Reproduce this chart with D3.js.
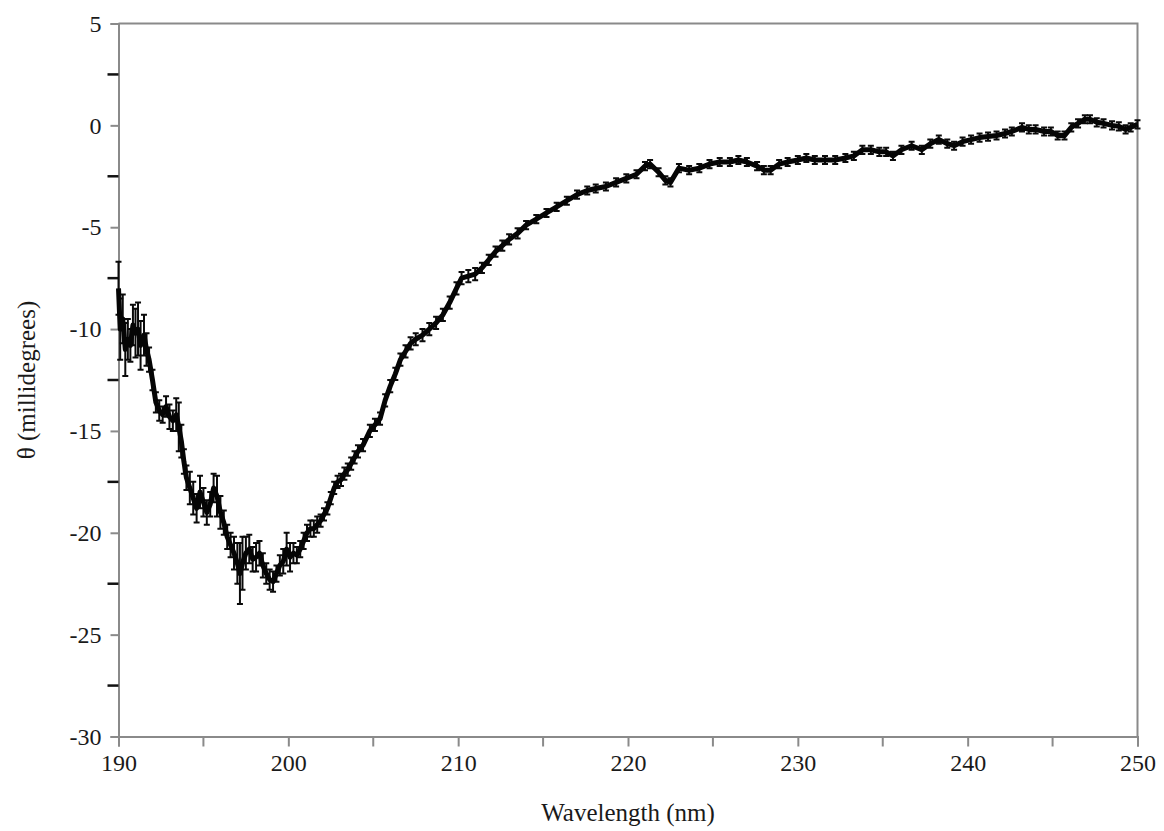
<!DOCTYPE html>
<html lang="en">
  <head>
    <meta charset="utf-8" />
    <title>CD spectrum</title>
    <script src="https://d3js.org/d3.v7.min.js"></script>
    <style type="text/css">
      body { margin: 0; background: #fff; }
      svg text {
        font-family: "Liberation Serif", Tinos, "Times New Roman", Times, "DejaVu Serif", "Noto Serif", serif !important;
        fill: #1a1a1a;
      }
    </style>
  </head>
  <body>
    <script type="text/javascript">
      // wavelength (nm), ellipticity (mdeg) and error bar half-heights
      const wavelength = [
        190.0, 190.1, 190.25, 190.4, 190.55, 190.7, 190.85, 191.0, 191.15, 191.3,
        191.5, 191.65, 191.8, 192.0, 192.2, 192.4, 192.6, 192.8, 193.0, 193.2,
        193.4, 193.55, 193.7, 193.85, 194.0, 194.2, 194.4, 194.6, 194.8, 195.0,
        195.2, 195.4, 195.6, 195.8, 196.0, 196.2, 196.4, 196.6, 196.8, 197.0,
        197.15, 197.3, 197.5, 197.7, 197.9, 198.1, 198.3, 198.5, 198.7, 198.9,
        199.1, 199.3, 199.5, 199.7, 199.9, 200.1, 200.3, 200.5, 200.7, 200.9,
        201.1, 201.3, 201.5, 201.7, 201.9, 202.1, 202.3, 202.5, 202.7, 202.9,
        203.1, 203.3, 203.5, 203.7, 203.9, 204.1, 204.4, 204.8, 205.1, 205.4,
        205.7, 206.0, 206.3, 206.6, 206.9, 207.2, 207.5, 207.9, 208.3, 208.7,
        209.1, 209.5, 209.9, 210.2, 210.6, 211.0, 211.4, 211.8, 212.2, 212.6,
        213.0, 213.5, 214.0, 214.6, 215.2, 215.8, 216.4, 217.0, 217.6, 218.1,
        218.7, 219.3, 219.9, 220.5, 221.0, 221.3, 221.8, 222.2, 222.5, 223.0,
        223.6, 224.2, 224.8, 225.4, 226.0, 226.5, 227.0, 227.6, 228.0, 228.4,
        228.9, 229.4, 230.0, 230.5, 231.0, 231.6, 232.2, 232.8, 233.3, 233.8,
        234.3, 234.8, 235.2, 235.6, 236.1, 236.7, 237.3, 237.8, 238.3, 238.8,
        239.2, 239.7, 240.2, 240.7, 241.2, 241.7, 242.2, 242.6, 243.2, 243.6,
        244.0, 244.5, 244.9, 245.3, 245.7, 246.1, 246.5, 246.9, 247.2, 247.6,
        248.0, 248.5, 248.9, 249.3, 249.6, 250.0
      ];
      const theta = [
        -8.0, -10.0, -9.5, -11.0, -10.5, -10.8, -9.8, -10.2, -10.0, -10.8,
        -10.3, -11.0, -11.5, -12.5, -13.6, -14.0, -14.2, -13.8, -14.3, -14.5,
        -14.2, -14.8, -15.5, -16.5, -17.3, -17.8, -18.3, -18.8, -18.0, -18.5,
        -19.0, -18.6, -17.8, -18.2, -19.0, -19.5, -20.2, -20.6, -21.0, -21.5,
        -22.0, -21.5, -21.0, -20.8, -21.3, -21.2, -21.0, -21.6, -22.0, -22.3,
        -22.4, -22.0, -21.6, -21.4, -20.8, -21.2, -21.0, -21.1, -20.8, -20.4,
        -20.0, -19.8, -19.8, -19.6, -19.4, -19.1, -18.8, -18.3, -17.8, -17.5,
        -17.4, -17.1, -16.9, -16.6, -16.3, -16.0, -15.7, -15.0, -14.7, -14.4,
        -13.5, -12.8, -12.2, -11.5, -11.1, -10.7, -10.5, -10.3, -10.0, -9.7,
        -9.3, -8.7, -8.0, -7.5, -7.4, -7.3, -7.0, -6.6, -6.2, -5.9,
        -5.6, -5.3, -4.9, -4.6, -4.3, -4.0, -3.7, -3.4, -3.2, -3.1,
        -3.0, -2.8, -2.6, -2.4, -2.0, -1.9, -2.3, -2.7, -2.8, -2.1,
        -2.2, -2.1, -1.9, -1.8, -1.8, -1.7, -1.8, -2.0, -2.2, -2.2,
        -1.9, -1.8, -1.7, -1.6, -1.7, -1.7, -1.7, -1.6, -1.5, -1.2,
        -1.2, -1.3, -1.3, -1.5, -1.2, -1.0, -1.2, -0.9, -0.7, -0.9,
        -1.0, -0.8, -0.7, -0.6, -0.55, -0.5, -0.4, -0.3, -0.1, -0.2,
        -0.2, -0.3, -0.3, -0.5, -0.5, -0.1, 0.1, 0.3, 0.3, 0.15,
        0.1, 0.0, -0.05, -0.2, -0.1, 0.05
      ];
      const thetaErr = [
        1.3, 1.5, 1.2, 1.3, 1.0, 0.8, 1.0, 1.2, 1.3, 1.2,
        1.0, 0.8, 0.6, 0.5, 0.5, 0.5, 0.4, 0.5, 0.6, 0.5,
        0.8, 1.2, 0.8, 0.6, 0.6, 0.8, 0.8, 0.7, 0.8, 0.7,
        0.6, 0.6, 0.7, 1.0, 0.8, 0.6, 0.6, 0.6, 0.8, 1.0,
        1.5, 1.3, 0.8, 0.7, 0.6, 0.7, 0.6, 0.6, 0.5, 0.5,
        0.5, 0.4, 0.5, 0.6, 0.8, 0.7, 0.5, 0.4, 0.4, 0.4,
        0.4, 0.4, 0.4, 0.4, 0.3, 0.3, 0.3, 0.3, 0.3, 0.3,
        0.3, 0.3, 0.3, 0.3, 0.3, 0.3, 0.3, 0.3, 0.3, 0.3,
        0.3, 0.3, 0.3, 0.3, 0.3, 0.3, 0.3, 0.3, 0.3, 0.3,
        0.3, 0.3, 0.3, 0.3, 0.3, 0.3, 0.25, 0.25, 0.25, 0.25,
        0.25, 0.25, 0.2, 0.2, 0.2, 0.2, 0.2, 0.2, 0.2, 0.2,
        0.2, 0.2, 0.2, 0.2, 0.2, 0.2, 0.2, 0.2, 0.2, 0.2,
        0.2, 0.2, 0.2, 0.2, 0.2, 0.2, 0.2, 0.2, 0.2, 0.2,
        0.2, 0.2, 0.2, 0.2, 0.2, 0.2, 0.2, 0.2, 0.2, 0.2,
        0.2, 0.2, 0.2, 0.2, 0.2, 0.2, 0.2, 0.2, 0.2, 0.2,
        0.2, 0.2, 0.2, 0.2, 0.2, 0.2, 0.2, 0.2, 0.2, 0.2,
        0.2, 0.2, 0.2, 0.2, 0.2, 0.2, 0.2, 0.2, 0.2, 0.2,
        0.2, 0.2, 0.2, 0.2, 0.2, 0.2
      ];
      const xTicks = [190, 200, 210, 220, 230, 240, 250];
      const xMinorTicks = [195, 205, 215, 225, 235, 245];
      const yTicks = [5, 0, -5, -10, -15, -20, -25, -30];
      const yMinorTicks = [2.5, -2.5, -7.5, -12.5, -17.5, -22.5, -27.5];

      const data = wavelength.map(function (wl, i) {
        return { w: wl, v: theta[i], e: thetaErr[i] };
      });

      //Width and height
      const w = 1164;
      const h = 831;
      const plotLeft = 118.5, plotRight = 1137.5, plotTop = 23.5, plotBottom = 736.5;
      const axisGray = "#8a8a8a";

      const xScale = d3.scaleLinear().domain([190, 250]).range([plotLeft, plotRight]);
      const yScale = d3.scaleLinear().domain([-30, 5]).range([plotBottom, plotTop]);

      const svg = d3
        .select("body")
        .append("svg")
        .attr("width", w)
        .attr("height", h);

      //Frame (top and right edges)
      svg.append("path")
        .attr("d", "M" + plotLeft + "," + plotTop + "H" + plotRight + "V" + plotBottom)
        .attr("fill", "none")
        .attr("stroke", axisGray)
        .attr("stroke-width", 2);

      //Y axis
      const yAxis = svg.append("g")
        .attr("transform", "translate(" + plotLeft + ",0)")
        .call(d3.axisLeft(yScale).tickValues(yTicks).tickSize(8).tickPadding(9)
          .tickFormat(function (d) { return d; }));
      yAxis.attr("font-family", null);
      yAxis.select(".domain").attr("stroke", axisGray).attr("stroke-width", 2);
      yAxis.selectAll(".tick line").attr("stroke", axisGray).attr("stroke-width", 2);
      yAxis.selectAll(".tick text").attr("font-size", 24);

      svg.append("g")
        .selectAll("line")
        .data(yMinorTicks)
        .enter()
        .append("line")
        .attr("x1", plotLeft - 11)
        .attr("x2", plotLeft)
        .attr("y1", function (d) { return yScale(d); })
        .attr("y2", function (d) { return yScale(d); })
        .attr("stroke", "#111")
        .attr("stroke-width", 2.5);

      //X axis
      const xAxis = svg.append("g")
        .attr("transform", "translate(0," + plotBottom + ")")
        .call(d3.axisBottom(xScale).tickValues(xTicks).tickSize(10).tickPadding(7)
          .tickFormat(function (d) { return d; }));
      xAxis.attr("font-family", null);
      xAxis.select(".domain").attr("stroke", axisGray).attr("stroke-width", 2);
      xAxis.selectAll(".tick line").attr("stroke", axisGray).attr("stroke-width", 2);
      xAxis.selectAll(".tick text").attr("font-size", 24);

      svg.append("g")
        .selectAll("line")
        .data(xMinorTicks)
        .enter()
        .append("line")
        .attr("x1", function (d) { return xScale(d); })
        .attr("x2", function (d) { return xScale(d); })
        .attr("y1", plotBottom)
        .attr("y2", plotBottom + 10)
        .attr("stroke", axisGray)
        .attr("stroke-width", 2);

      //Axis titles
      svg.append("text")
        .attr("x", (plotLeft + plotRight) / 2)
        .attr("y", 821)
        .attr("text-anchor", "middle")
        .attr("font-size", 25)
        .text("Wavelength (nm)");

      svg.append("text")
        .attr("transform", "translate(35," + ((plotTop + plotBottom) / 2) + ") rotate(-90)")
        .attr("text-anchor", "middle")
        .attr("font-size", 25)
        .text("θ (millidegrees)");

      //Error bars
      const bars = svg.append("g").attr("stroke", "#0a0a0a").attr("stroke-width", 2);
      bars.selectAll("line.bar")
        .data(data)
        .enter()
        .append("line")
        .attr("class", "bar")
        .attr("x1", function (d) { return xScale(d.w); })
        .attr("x2", function (d) { return xScale(d.w); })
        .attr("y1", function (d) { return yScale(d.v + d.e); })
        .attr("y2", function (d) { return yScale(d.v - d.e); });
      bars.selectAll("path.cap")
        .data(data)
        .enter()
        .append("path")
        .attr("class", "cap")
        .attr("fill", "none")
        .attr("d", function (d) {
          const x = xScale(d.w);
          return "M" + (x - 3) + "," + yScale(d.v + d.e) + "h6" +
            "M" + (x - 3) + "," + yScale(d.v - d.e) + "h6";
        });

      //Spectrum line
      const line = d3.line()
        .x(function (d) { return xScale(d.w); })
        .y(function (d) { return yScale(d.v); });

      svg.append("path")
        .datum(data)
        .attr("d", line)
        .attr("fill", "none")
        .attr("stroke", "#050505")
        .attr("stroke-width", 5)
        .attr("stroke-linejoin", "round");
    </script>
  </body>
</html>
